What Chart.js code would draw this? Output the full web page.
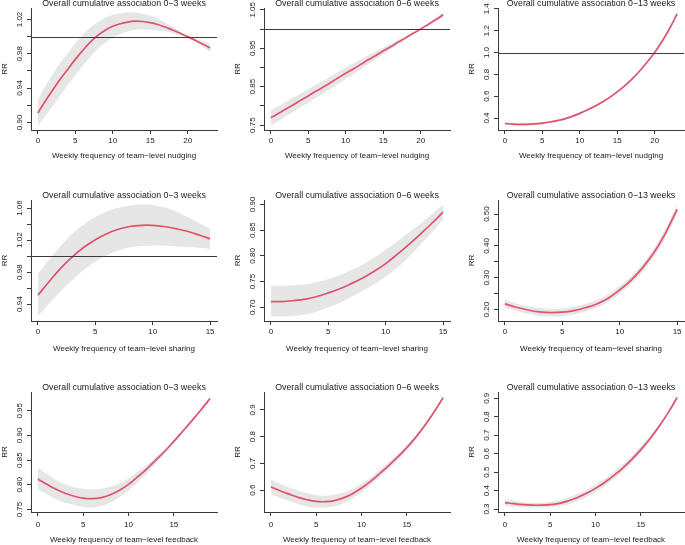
<!DOCTYPE html>
<html>
<head>
<meta charset="utf-8">
<script src="https://cdn.jsdelivr.net/npm/chart.js@4.4.0/dist/chart.umd.min.js"></script>
<style>
  html, body { margin: 0; padding: 0; background: #fff; }
  #page { position: relative; width: 685px; height: 545px; overflow: hidden; }
  #page canvas { position: absolute; }
</style>
</head>
<body>
<div id="page"></div>
<script>
// x values (weekly frequency) and x axis ticks
const nudgeX = [0,1,2,3,4,5,6,7,8,9,10,11,12,13,14,15,16,17,18,19,20,21,22,23];
const shareX = [0,1,2,3,4,5,6,7,8,9,10,11,12,13,14,15];
const feedX = [0,1,2,3,4,5,6,7,8,9,10,11,12,13,14,15,16,17,18,19];
const nudgeXTicks = [0, 5, 10, 15, 20];
const shareXTicks = [0, 5, 10, 15];
const feedXTicks = [0, 5, 10, 15];

// nudging, 0-3 weeks
const nudge3Fit  = [0.911,0.925,0.938,0.9505,0.962,0.9735,0.984,0.9935,1.0015,1.0075,1.012,1.015,1.017,1.018,1.0176,1.0163,1.0142,1.0112,1.0077,1.004,1.000,0.9957,0.9913,0.9868];
const nudge3High = [0.9256,0.9425,0.9565,0.9695,0.9805,0.9922,1.002,1.0105,1.0171,1.0221,1.0253,1.027,1.028,1.0281,1.0268,1.0247,1.0212,1.0165,1.0114,1.006,1.000,0.9977,0.9946,0.9913];
const nudge3Low  = [0.8964,0.9075,0.9195,0.9315,0.9435,0.9548,0.966,0.9765,0.9859,0.9929,0.9987,1.003,1.006,1.0079,1.0084,1.0079,1.0072,1.0059,1.004,1.002,1.000,0.9937,0.988,0.9823];
const nudge3YTicks = [0.90, 0.92, 0.94, 0.96, 0.98, 1.00, 1.02];
const nudge3YLabels = ['0.90', '0.94', '0.98', '1.02'];

// nudging, 0-6 weeks
const nudge6Fit  = [0.769,0.780,0.792,0.803,0.815,0.826,0.838,0.849,0.861,0.873,0.885,0.896,0.908,0.920,0.931,0.943,0.954,0.966,0.977,0.989,1.000,1.012,1.024,1.037];
const nudge6High = [0.789,0.7995,0.811,0.8215,0.833,0.8435,0.855,0.8655,0.877,0.8885,0.900,0.910,0.921,0.9315,0.941,0.9515,0.961,0.9715,0.981,0.991,1.000,1.014,1.028,1.043];
const nudge6Low  = [0.749,0.7605,0.773,0.7845,0.797,0.8085,0.821,0.8325,0.845,0.8575,0.870,0.882,0.895,0.9085,0.921,0.9345,0.947,0.9605,0.973,0.987,1.000,1.010,1.020,1.031];
const nudge6YTicks = [0.75, 0.80, 0.85, 0.90, 0.95, 1.00, 1.05];
const nudge6YLabels = ['0.75', '0.85', '0.95', '1.05'];

// nudging, 0-13 weeks
const nudge13Fit  = [0.350,0.345,0.343,0.343,0.347,0.354,0.364,0.377,0.393,0.416,0.443,0.473,0.507,0.546,0.589,0.639,0.695,0.759,0.831,0.913,1.000,1.103,1.220,1.353];
const nudge13High = [0.362,0.356,0.354,0.353,0.357,0.364,0.374,0.387,0.403,0.426,0.453,0.483,0.517,0.556,0.599,0.649,0.704,0.767,0.837,0.916,1.000,1.107,1.228,1.366];
const nudge13Low  = [0.338,0.334,0.332,0.333,0.337,0.344,0.354,0.367,0.383,0.406,0.433,0.463,0.497,0.536,0.579,0.629,0.686,0.751,0.825,0.910,1.000,1.099,1.212,1.340];
const nudge13YTicks = [0.4, 0.6, 0.8, 1.0, 1.2, 1.4];
const nudge13YLabels = ['0.4', '0.6', '0.8', '1.0', '1.2', '1.4'];

// sharing, 0-3 weeks
const share3Fit  = [0.951,0.9685,0.985,0.999,1.011,1.0205,1.028,1.0335,1.037,1.0385,1.0385,1.037,1.0343,1.031,1.0265,1.0215];
const share3High = [0.9775,0.996,1.013,1.028,1.0395,1.049,1.0555,1.0603,1.063,1.0645,1.064,1.061,1.056,1.049,1.042,1.034];
const share3Low  = [0.9245,0.941,0.956,0.970,0.9825,0.993,1.001,1.007,1.011,1.0125,1.013,1.013,1.0123,1.011,1.0105,1.009];
const share3YTicks = [0.94, 0.96, 0.98, 1.00, 1.02, 1.04, 1.06];
const share3YLabels = ['0.94', '0.98', '1.02', '1.06'];

// sharing, 0-6 weeks
const share6Fit  = [0.711,0.711,0.713,0.716,0.721,0.728,0.736,0.746,0.757,0.770,0.785,0.803,0.822,0.842,0.863,0.885];
const share6High = [0.742,0.742,0.743,0.745,0.749,0.755,0.763,0.772,0.783,0.797,0.812,0.828,0.845,0.862,0.881,0.900];
const share6Low  = [0.682,0.682,0.683,0.686,0.692,0.700,0.709,0.720,0.732,0.745,0.760,0.777,0.798,0.821,0.845,0.871];
const share6YTicks = [0.70, 0.75, 0.80, 0.85, 0.90];
const share6YLabels = ['0.70', '0.75', '0.80', '0.85', '0.90'];

// sharing, 0-13 weeks
const share13Fit  = [0.218,0.2075,0.199,0.193,0.1905,0.192,0.197,0.206,0.218,0.236,0.262,0.293,0.332,0.380,0.441,0.515];
const share13High = [0.231,0.2195,0.211,0.205,0.2025,0.204,0.209,0.218,0.230,0.248,0.274,0.305,0.345,0.393,0.455,0.530];
const share13Low  = [0.205,0.1955,0.187,0.181,0.1785,0.180,0.185,0.194,0.206,0.224,0.250,0.281,0.319,0.367,0.427,0.500];
const share13YTicks = [0.20, 0.25, 0.30, 0.35, 0.40, 0.45, 0.50];
const share13YLabels = ['0.20', '0.30', '0.40', '0.50'];

// feedback, 0-3 weeks
const feed3Fit  = [0.812,0.801,0.791,0.783,0.777,0.773,0.772,0.774,0.780,0.789,0.801,0.816,0.832,0.850,0.868,0.888,0.909,0.930,0.952,0.975];
const feed3High = [0.834,0.822,0.810,0.801,0.795,0.792,0.791,0.792,0.796,0.803,0.813,0.826,0.840,0.856,0.873,0.892,0.912,0.933,0.955,0.979];
const feed3Low  = [0.791,0.781,0.771,0.764,0.759,0.755,0.754,0.757,0.764,0.775,0.789,0.805,0.823,0.843,0.863,0.884,0.906,0.927,0.949,0.971];
const feed3YTicks = [0.75, 0.80, 0.85, 0.90, 0.95];
const feed3YLabels = ['0.75', '0.80', '0.85', '0.90', '0.95'];

// feedback, 0-6 weeks
const feed6Fit  = [0.612,0.598,0.585,0.573,0.564,0.558,0.557,0.561,0.571,0.587,0.608,0.633,0.662,0.692,0.724,0.759,0.798,0.842,0.892,0.945];
const feed6High = [0.639,0.624,0.610,0.598,0.589,0.581,0.579,0.583,0.591,0.605,0.624,0.647,0.675,0.704,0.735,0.768,0.806,0.849,0.898,0.950];
const feed6Low  = [0.585,0.572,0.560,0.548,0.539,0.535,0.535,0.539,0.551,0.569,0.592,0.619,0.649,0.680,0.713,0.750,0.790,0.835,0.886,0.940];
const feed6YTicks = [0.6, 0.7, 0.8, 0.9];
const feed6YLabels = ['0.6', '0.7', '0.8', '0.9'];

// feedback, 0-13 weeks
const feed13Fit  = [0.335,0.329,0.324,0.321,0.321,0.324,0.331,0.344,0.362,0.385,0.412,0.444,0.481,0.522,0.569,0.622,0.681,0.747,0.821,0.904];
const feed13High = [0.353,0.345,0.338,0.334,0.334,0.338,0.347,0.362,0.381,0.405,0.432,0.464,0.501,0.542,0.588,0.640,0.696,0.758,0.828,0.910];
const feed13Low  = [0.317,0.313,0.310,0.308,0.308,0.310,0.315,0.326,0.343,0.365,0.392,0.424,0.461,0.502,0.550,0.604,0.666,0.736,0.814,0.898];
const feed13YTicks = [0.3, 0.4, 0.5, 0.6, 0.7, 0.8, 0.9];
const feed13YLabels = ['0.3', '0.4', '0.5', '0.6', '0.7', '0.8', '0.9'];

const titles = ['Overall cumulative association 0\u22123 weeks', 'Overall cumulative association 0\u22126 weeks', 'Overall cumulative association 0\u221213 weeks'];
const xTitles = ['Weekly frequency of team\u2212level nudging', 'Weekly frequency of team\u2212level sharing', 'Weekly frequency of team\u2212level feedback'];

const panels = [
    { row: 0, col: 0, xs: nudgeX, xTicks: nudgeXTicks, fit: nudge3Fit, high: nudge3High, low: nudge3Low, yTicks: nudge3YTicks, yLabels: nudge3YLabels },
    { row: 0, col: 1, xs: nudgeX, xTicks: nudgeXTicks, fit: nudge6Fit, high: nudge6High, low: nudge6Low, yTicks: nudge6YTicks, yLabels: nudge6YLabels },
    { row: 0, col: 2, xs: nudgeX, xTicks: nudgeXTicks, fit: nudge13Fit, high: nudge13High, low: nudge13Low, yTicks: nudge13YTicks, yLabels: nudge13YLabels },
    { row: 1, col: 0, xs: shareX, xTicks: shareXTicks, fit: share3Fit, high: share3High, low: share3Low, yTicks: share3YTicks, yLabels: share3YLabels },
    { row: 1, col: 1, xs: shareX, xTicks: shareXTicks, fit: share6Fit, high: share6High, low: share6Low, yTicks: share6YTicks, yLabels: share6YLabels },
    { row: 1, col: 2, xs: shareX, xTicks: shareXTicks, fit: share13Fit, high: share13High, low: share13Low, yTicks: share13YTicks, yLabels: share13YLabels },
    { row: 2, col: 0, xs: feedX, xTicks: feedXTicks, fit: feed3Fit, high: feed3High, low: feed3Low, yTicks: feed3YTicks, yLabels: feed3YLabels },
    { row: 2, col: 1, xs: feedX, xTicks: feedXTicks, fit: feed6Fit, high: feed6High, low: feed6Low, yTicks: feed6YTicks, yLabels: feed6YLabels },
    { row: 2, col: 2, xs: feedX, xTicks: feedXTicks, fit: feed13Fit, high: feed13High, low: feed13Low, yTicks: feed13YTicks, yLabels: feed13YLabels }
];

// page geometry (pixels)
const colLeft = [31, 264, 498];
const plotW = 186;
const rowTop = [8, 200, 392];
const rowBottom = [130, 321, 512];
const xAxisH = [33, 34, 35];
const xTickPad = [2, 2, 3.9];
const xTitleGap = [26, 27.3, 27.7];
const yAxisW = 36;
const topGap = 16;

const FONT = '"Liberation Sans", Arial, Helvetica, sans-serif';
const INK = '#1a1a1a';
const AXIS = '#3a3a3a';

Chart.defaults.font.family = FONT;
Chart.defaults.color = INK;

// R style: axis range is the data range widened by 4% each side
function padRange(values) {
    const lo = Math.min(...values), hi = Math.max(...values);
    const d = (hi - lo) * 0.04;
    return [lo - d, hi + d];
}

function toPoints(xs, ys) {
    return xs.map((x, i) => ({ x: x, y: ys[i] }));
}

// reference line at RR = 1 and rotated y tick labels
const rrExtras = {
    id: 'rrExtras',
    afterDatasetsDraw(chart, args, opts) {
        const y = chart.scales.y;
        if (opts.refLine < y.min || opts.refLine > y.max) return;
        const ctx = chart.ctx;
        const py = Math.round(y.getPixelForValue(opts.refLine)) + 0.5;
        ctx.save();
        ctx.strokeStyle = AXIS;
        ctx.lineWidth = 1;
        ctx.beginPath();
        ctx.moveTo(chart.chartArea.left, py);
        ctx.lineTo(chart.chartArea.right, py);
        ctx.stroke();
        ctx.restore();
    },
    afterDraw(chart, args, opts) {
        const ctx = chart.ctx;
        const y = chart.scales.y;
        ctx.save();
        ctx.font = '8px ' + FONT;
        ctx.fillStyle = INK;
        ctx.textAlign = 'center';
        ctx.textBaseline = 'middle';
        opts.labels.forEach(label => {
            ctx.save();
            ctx.translate(chart.chartArea.left - opts.offset, y.getPixelForValue(parseFloat(label)));
            ctx.rotate(-Math.PI / 2);
            ctx.fillText(label, 0, 0);
            ctx.restore();
        });
        ctx.restore();
    }
};

const page = document.getElementById('page');

panels.forEach(p => {
    const plotH = rowBottom[p.row] - rowTop[p.row];
    const canvas = document.createElement('canvas');
    canvas.width = yAxisW + plotW + 1;
    canvas.height = topGap + plotH + xAxisH[p.row];
    canvas.style.left = (colLeft[p.col] - yAxisW) + 'px';
    canvas.style.top = (rowTop[p.row] - topGap) + 'px';
    page.appendChild(canvas);

    const [xMin, xMax] = padRange(p.xs);
    const [yMin, yMax] = padRange(p.low.concat(p.high));

    new Chart(canvas, {
        type: 'line',
        data: {
            datasets: [
                {
                    data: toPoints(p.xs, p.fit),
                    borderColor: '#df536b',
                    borderWidth: 1.7,
                    pointRadius: 0,
                    fill: false,
                    tension: 0.4
                },
                {
                    data: toPoints(p.xs, p.high),
                    borderWidth: 0,
                    pointRadius: 0,
                    fill: '+1',
                    backgroundColor: '#e6e6e6',
                    tension: 0.4
                },
                {
                    data: toPoints(p.xs, p.low),
                    borderWidth: 0,
                    pointRadius: 0,
                    fill: false,
                    tension: 0.4
                }
            ]
        },
        options: {
            responsive: false,
            animation: false,
            events: [],
            layout: { padding: { left: 0, right: 1, top: 0, bottom: 0 } },
            plugins: {
                legend: { display: false },
                tooltip: { enabled: false },
                filler: { drawTime: 'beforeDatasetsDraw' },
                title: {
                    display: true,
                    text: titles[p.col],
                    fullSize: false,
                    color: INK,
                    font: { size: 8.8, weight: 'normal', lineHeight: 0.9 },
                    padding: { top: topGap - 7.92, bottom: 0 }
                },
                rrExtras: { refLine: 1, labels: p.yLabels, offset: 11 }
            },
            scales: {
                x: {
                    type: 'linear',
                    min: xMin,
                    max: xMax,
                    afterBuildTicks: s => { s.ticks = p.xTicks.map(v => ({ value: v })); },
                    afterFit: s => { s.height = xAxisH[p.row]; },
                    ticks: {
                        autoSkip: false,
                        maxRotation: 0,
                        padding: xTickPad[p.row],
                        color: INK,
                        font: { size: 8 },
                        callback: v => String(v)
                    },
                    grid: { drawOnChartArea: false, tickLength: 4, color: AXIS },
                    border: { color: AXIS, width: 1 },
                    title: {
                        display: true,
                        text: xTitles[p.row],
                        color: INK,
                        font: { size: 8 },
                        padding: { top: 0, bottom: xAxisH[p.row] - 4.8 - xTitleGap[p.row] }
                    }
                },
                y: {
                    type: 'linear',
                    min: yMin,
                    max: yMax,
                    afterBuildTicks: s => { s.ticks = p.yTicks.map(v => ({ value: v })); },
                    afterFit: s => { s.width = yAxisW; },
                    ticks: { display: false },
                    grid: { drawOnChartArea: false, tickLength: 4, color: AXIS },
                    border: { color: AXIS, width: 1 },
                    title: {
                        display: true,
                        text: 'RR',
                        color: INK,
                        font: { size: 8 },
                        padding: { top: 5.2, bottom: 0 }
                    }
                }
            }
        },
        plugins: [rrExtras]
    });
});
</script>
</body>
</html>
